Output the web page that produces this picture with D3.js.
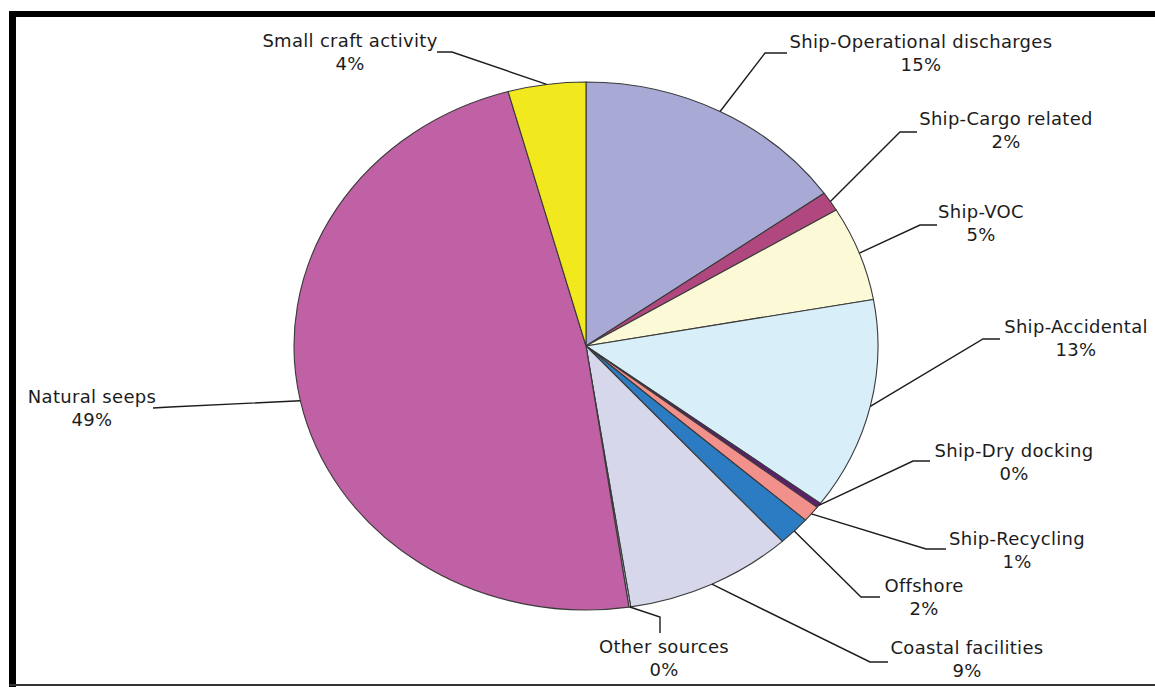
<!DOCTYPE html>
<html>
<head>
<meta charset="utf-8">
<script src="https://cdn.jsdelivr.net/npm/d3@7"></script>
<style>
  body { margin: 0; background: #fff; }
  svg { display: block; }
  .lbl { font-family: "DejaVu Sans", Verdana, sans-serif; font-size: 18px; letter-spacing: 0.3px; fill: #1c1c1c; }
</style>
</head>
<body>
<svg id="chart"></svg>
<script>
// slice order, clockwise from 12 o'clock
const categories = [
  'Ship-Operational discharges', 'Ship-Cargo related', 'Ship-VOC', 'Ship-Accidental',
  'Ship-Dry docking', 'Ship-Recycling', 'Offshore', 'Coastal facilities',
  'Other sources', 'Natural seeps', 'Small craft activity'
];
// shares as drawn in the picture (percent)
const shares = [15.2, 1.2, 5.8, 13.0, 0.3, 1.0, 1.8, 9.3, 0.1, 48.1, 4.3];
// percentages as printed on the labels
const pctLabels = ['15%', '2%', '5%', '13%', '0%', '1%', '2%', '9%', '0%', '49%', '4%'];
const colors = [
  '#a9a9d5', '#b0487f', '#fbf9d6', '#d8eef8', '#5b1f6b', '#f2908b',
  '#2b7cc3', '#d7d7eb', '#c9c9e2', '#c060a5', '#f1e81d'
];

// label layout: text centre x, first baseline y, leader elbow points
const labelX = [921, 1006, 981, 1076, 1014, 1017, 924, 967, 664, 92, 350];
const labelY = [48, 125, 218, 333, 457, 545, 592, 654, 653, 403, 47];
const elbows = [
  [[765, 53], [787, 53]],
  [[900, 132], [917, 132]],
  [[920, 225], [937, 225]],
  [[983, 339], [1000, 339]],
  [[913, 461], [930, 461]],
  [[926, 549], [946, 549]],
  [[861, 597], [880, 597]],
  [[870, 662], [888, 662]],
  [[660, 617], [660, 633]],
  [[170, 407], [153, 408]],
  [[452, 52], [437, 52]]
];

const w = 1155;
const h = 687;
const cx = 586;
const cy = 346;
const ry = 264;
const rx = 292;
const sx = rx / ry;

const svg = d3.select('#chart')
  .attr('width', w)
  .attr('height', h);

// frame
svg.append('rect').attr('x', 9).attr('y', 11).attr('width', w - 9).attr('height', 6).attr('fill', '#000');
svg.append('rect').attr('x', 9).attr('y', 11).attr('width', 7).attr('height', h - 11).attr('fill', '#000');
svg.append('line').attr('x1', 9).attr('x2', w).attr('y1', 685).attr('y2', 685)
  .attr('stroke', '#333').attr('stroke-width', 2);

const data = categories.map((c, i) => ({ name: c, value: shares[i], pct: pctLabels[i], i }));

const pie = d3.pie().sort(null).value(d => d.value);
const arcs = pie(data);

const arc = d3.arc().innerRadius(0).outerRadius(ry);

const g = svg.append('g')
  .attr('transform', `translate(${cx},${cy}) scale(${sx},1)`);

g.selectAll('path')
  .data(arcs)
  .enter()
  .append('path')
  .attr('d', arc)
  .attr('fill', d => colors[d.data.i])
  .attr('stroke', '#3a3a3a')
  .attr('stroke-width', 1.1)
  .attr('stroke-linejoin', 'round')
  .attr('vector-effect', 'non-scaling-stroke');

// leader lines start on the rim at the slice's mid angle
const rim = d => {
  const a = (d.startAngle + d.endAngle) / 2;
  return [cx + rx * Math.sin(a), cy - ry * Math.cos(a)];
};

const line = d3.line();

svg.selectAll('path.leader')
  .data(arcs)
  .enter()
  .append('path')
  .attr('class', 'leader')
  .attr('d', d => line([rim(d)].concat(elbows[d.data.i])))
  .attr('fill', 'none')
  .attr('stroke', '#1c1c1c')
  .attr('stroke-width', 1.4);

const labels = svg.selectAll('text.lbl')
  .data(arcs)
  .enter()
  .append('text')
  .attr('class', 'lbl')
  .attr('text-anchor', 'middle')
  .attr('x', d => labelX[d.data.i])
  .attr('y', d => labelY[d.data.i]);

labels.append('tspan')
  .attr('x', d => labelX[d.data.i])
  .text(d => d.data.name);

labels.append('tspan')
  .attr('x', d => labelX[d.data.i])
  .attr('dy', 23)
  .text(d => d.data.pct);
</script>
</body>
</html>
